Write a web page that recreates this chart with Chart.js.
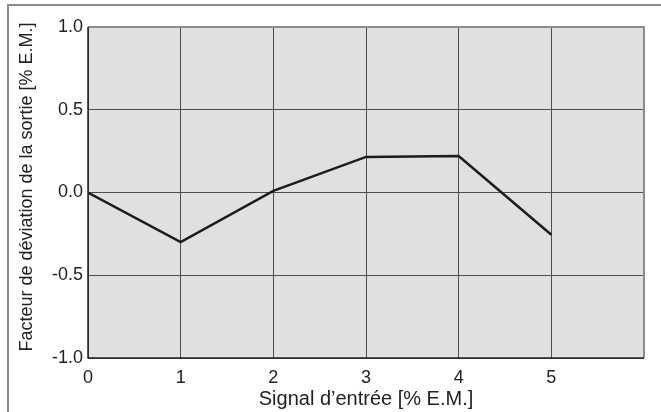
<!DOCTYPE html>
<html>
<head>
<meta charset="utf-8">
<script src="https://cdn.jsdelivr.net/npm/chart.js@4/dist/chart.umd.min.js"></script>
<style>
html,body{margin:0;padding:0;background:#fff;}
#wrap{position:relative;width:661px;height:412px;}
</style>
</head>
<body>
<div id="wrap"><canvas id="c" width="661" height="412"></canvas></div>
<script>
const xValues = [0, 1, 2, 3, 4, 5];
const yValues = [0.0, -0.30, 0.01, 0.215, 0.22, -0.255];
const xTicks = [0, 1, 2, 3, 4, 5, 6];
const yTicks = [-1.0, -0.5, 0.0, 0.5, 1.0];
const xTitle = 'Signal d\u2019entrée [% E.M.]';
const yTitle = 'Facteur de déviation de la sortie [% E.M.]';

const FONT = 'Liberation Sans, Arial, Helvetica, sans-serif';

const framePlugin = {
  id: 'frame',
  beforeDraw(chart) {
    const {ctx, chartArea: a} = chart;
    ctx.save();
    ctx.fillStyle = '#e0e0e2';
    ctx.fillRect(a.left, a.top, a.right - a.left, a.bottom - a.top);
    ctx.restore();
  },
  afterDraw(chart) {
    const {ctx, chartArea: a} = chart;
    ctx.save();
    ctx.strokeStyle = '#8a8a8a';
    ctx.lineWidth = 2;
    ctx.beginPath();
    ctx.moveTo(8, 412);
    ctx.lineTo(8, 5);
    ctx.lineTo(661, 5);
    ctx.stroke();
    ctx.strokeStyle = '#8c8c8c';
    ctx.lineWidth = 2;
    ctx.beginPath();
    ctx.moveTo(a.left, a.top);
    ctx.lineTo(a.right, a.top);
    ctx.lineTo(a.right, a.bottom);
    ctx.stroke();
    ctx.strokeStyle = '#222';
    ctx.lineWidth = 1.5;
    ctx.beginPath();
    ctx.moveTo(a.right, a.bottom);
    ctx.lineTo(a.left, a.bottom);
    ctx.lineTo(a.left, a.top);
    ctx.stroke();
    // y axis title
    ctx.translate(27, 187);
    ctx.rotate(-Math.PI / 2);
    ctx.fillStyle = '#222';
    ctx.font = '18px ' + FONT;
    ctx.textAlign = 'center';
    ctx.textBaseline = 'middle';
    ctx.fillText(yTitle, 0, 0);
    ctx.restore();
  }
};

new Chart(document.getElementById('c'), {
  type: 'line',
  data: {
    datasets: [{
      data: xValues.map((x, i) => ({x: x, y: yValues[i]})),
      borderColor: '#1c1c1c',
      borderWidth: 2.5,
      pointRadius: 0,
      tension: 0,
      fill: false
    }]
  },
  options: {
    responsive: false,
    animation: false,
    devicePixelRatio: 1,
    layout: {padding: {left: 0, right: 17, top: 27, bottom: 0}},
    plugins: {legend: {display: false}, tooltip: {enabled: false}},
    scales: {
      x: {
        type: 'linear',
        min: xTicks[0],
        max: xTicks[xTicks.length - 1],
        afterBuildTicks(s) { s.ticks = xTicks.map(v => ({value: v})); },
        afterFit(s) { s.height = 412 - 358; },
        grid: {color: '#4d4d4d', lineWidth: 1, drawTicks: false},
        border: {display: false},
        ticks: {
          color: '#222',
          font: {family: FONT, size: 18},
          padding: 9,
          maxRotation: 0,
          callback: v => (v === 6 ? '' : String(v))
        },
        title: {
          display: true,
          text: xTitle,
          color: '#222',
          font: {family: FONT, size: 20},
          padding: {top: 0, bottom: 1}
        }
      },
      y: {
        type: 'linear',
        min: yTicks[0],
        max: yTicks[yTicks.length - 1],
        afterBuildTicks(s) { s.ticks = yTicks.map(v => ({value: v})); },
        afterFit(s) { s.width = 88; },
        grid: {color: '#4d4d4d', lineWidth: 1, drawTicks: false},
        border: {display: false},
        ticks: {
          color: '#222',
          font: {family: FONT, size: 18},
          padding: 5,
          callback: v => v.toFixed(1)
        },
        title: {display: false}
      }
    }
  },
  plugins: [framePlugin]
});
</script>
</body>
</html>
